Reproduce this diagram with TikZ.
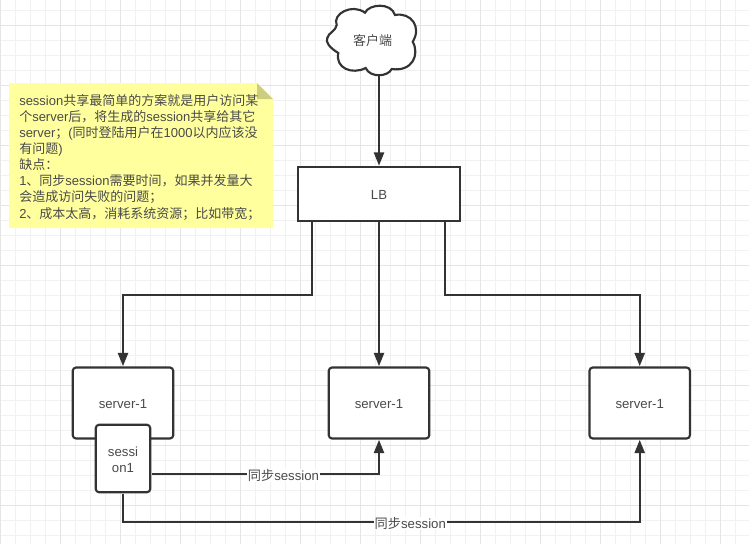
\documentclass[tikz,border=0pt]{standalone}
\usepackage{fontspec}
\setmainfont{Liberation Sans}
\newfontfamily\cjk{Noto Sans CJK SC}
\usetikzlibrary{arrows.meta,calc}
\definecolor{ink}{HTML}{333333}
\definecolor{txt}{HTML}{4A4A4A}
\definecolor{gmin}{HTML}{F1F1F1}
\definecolor{gmaj}{HTML}{E5E5E5}
\definecolor{notefill}{HTML}{FFFF9E}
\definecolor{foldfill}{HTML}{CDCD80}
\newcommand{\zh}[1]{{\cjk #1}}
\newcommand{\dn}[1]{\raisebox{-1pt}[\height][\depth]{#1}}
\begin{document}
\begin{tikzpicture}[x=0.75pt,y=-0.75pt,
  box/.style={draw=ink,line width=1.6pt,fill=white,rounded corners=2.5pt,text=txt,font=\fontsize{9.9pt}{11.7pt}\selectfont,inner sep=0pt,align=center,outer sep=1pt},
  conn/.style={draw=ink,line width=1.6pt,-{Triangle[length=10pt,width=7.6pt]}},
  lbl/.style={fill=white,text=txt,font=\fontsize{9.9pt}{11.5pt}\selectfont,inner xsep=0.5pt,inner ysep=0.5pt,yshift=-1pt}]
\useasboundingbox (0,0) rectangle (749,544);
\fill[white] (0,0) rectangle (749,544);
\foreach \x in {0,15,...,749} \draw[gmin,line width=0.75pt] (\x,0) -- (\x,544);
\foreach \y in {10,25,...,544} \draw[gmin,line width=0.75pt] (0,\y) -- (749,\y);
\foreach \x in {0,60,...,749} \draw[gmaj,line width=0.75pt] (\x,0) -- (\x,544);
\foreach \y in {25,85,...,544} \draw[gmaj,line width=0.75pt] (0,\y) -- (749,\y);
% note
\fill[notefill] (9,83) -- (257,83) -- (273,99) -- (273,228) -- (9,228) -- cycle;
\fill[foldfill] (257,83) -- (273,99) -- (257,99) -- cycle;
\node[anchor=north west,inner sep=0pt,text=txt,font=\fontsize{9.75pt}{12.08pt}\selectfont,align=left] (noteText) at (19,94) {session\zh{共享最简单的方案就是用户访问某}\\\zh{个}server\zh{后，将生成的}session\zh{共享给其它}\\server\zh{；}(\zh{同时登陆用户在}1000\zh{以内应该没}\\\zh{有问题})\\\zh{缺点：}\\1\zh{、同步}session\zh{需要时间，如果并发量大}\\\zh{会造成访问失败的问题；}\\2\zh{、成本太高，消耗系统资源；比如带宽；}};
% cloud
\draw[draw=ink,line width=1.6pt,fill=white] (338.3,53)
  .. controls (330,48) and (325,42) .. (327.3,38)
  .. controls (328,33) and (336,31) .. (336.7,25)
  .. controls (332,14) and (352,3) .. (365,12.7)
  .. controls (369,4) and (391,2) .. (395,15)
  .. controls (411,12) and (422,27) .. (412.7,41.7)
  .. controls (420,55) and (412,72) .. (391.7,69)
  .. controls (388,77) and (370,78) .. (365.7,68)
  .. controls (352,75) and (335,68) .. (338.3,53) -- cycle;
\node[text=txt,font=\fontsize{9.75pt}{11.5pt}\selectfont\cjk,inner sep=0pt] (client) at (372.7,40.7) {客户端};
\coordinate (cloudBottom) at (379,75);
% boxes
\node[box,rounded corners=0pt,minimum width=162*0.75pt,minimum height=54*0.75pt] (lb) at (379,194) {\dn{LB}};
\node[box,minimum width=100.5*0.75pt,minimum height=71*0.75pt] (s1) at (123,403) {\dn{server-1}};
\node[box,minimum width=100.5*0.75pt,minimum height=71*0.75pt] (s2) at (379,403) {\dn{server-1}};
\node[box,minimum width=100.5*0.75pt,minimum height=71*0.75pt] (s3) at (639.7,403) {\dn{server-1}};
\node[box,minimum width=54.5*0.75pt,minimum height=67.5*0.75pt] (sess) at (123,458.5) {\dn{\parbox{38pt}{\centering sessi\\on1}}};
% connectors
\draw[conn] (cloudBottom) -- (lb.north);
\draw[conn] ([xshift=-50.25pt]lb.south) |- (123,295) -- (s1.north);
\draw[conn] (lb.south) -- (s2.north);
\draw[conn] ([xshift=49.5pt]lb.south) |- (639.7,295) -- (s3.north);
\draw[conn] (sess.east |- 0,474) -| (s2.south) node[lbl,pos=0.29] (sync1) {\zh{同步}session};
\draw[conn] (sess.south) -- (123,522) -- node[lbl,pos=0.556] (sync2) {\zh{同步}session} (639.7,522) -- (s3.south);
\end{tikzpicture}
\end{document}
